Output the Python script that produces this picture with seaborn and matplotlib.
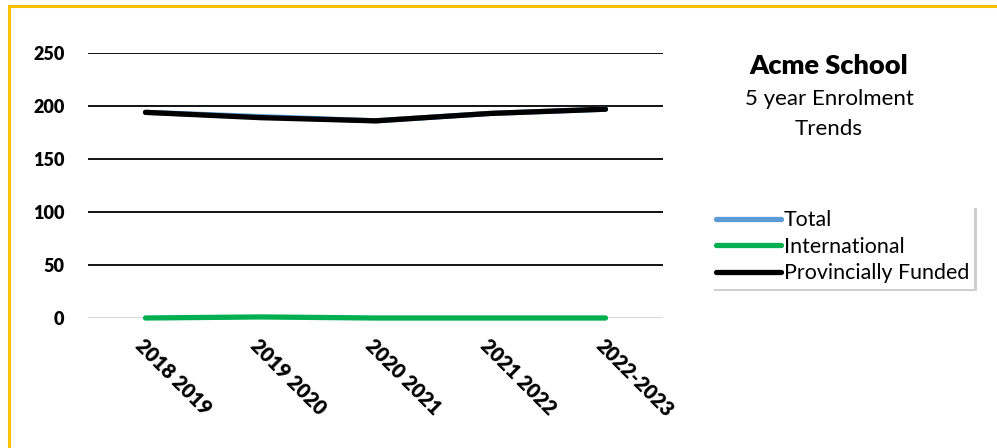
import pandas as pd
import matplotlib
matplotlib.use("Agg")
import matplotlib.pyplot as plt
import seaborn as sns
from matplotlib.patches import Rectangle

years = ['2018 2019', '2019 2020', '2020 2021', '2021 2022', '2022-2023']
total = [194, 190, 186, 193, 197]
international = [0, 1, 0, 0, 0]
provincial = [194, 189, 186, 193, 197]

series = ['Total', 'International', 'Provincially Funded']
colors = ['#5B9BD5', '#00B050', '#000000']

df = pd.DataFrame({
    'Year': years * 3,
    'Enrolment': total + international + provincial,
    'Series': [series[0]] * 5 + [series[1]] * 5 + [series[2]] * 5,
})
df['x'] = df['Year'].map({y: i for i, y in enumerate(years)})

sns.set_style('white')
plt.rcParams['font.family'] = ['Lato', 'DejaVu Sans']
plt.rcParams['text.color'] = 'black'
plt.rcParams['xtick.color'] = 'black'
plt.rcParams['ytick.color'] = 'black'

fig = plt.figure(figsize=(9.97, 4.48), dpi=100)
ax = fig.add_axes([88 / 997, 1 - 318 / 448, (663 - 88) / 997, (318 - 53) / 448])

sns.lineplot(data=df, x='x', y='Enrolment', hue='Series', hue_order=series,
             palette=colors, linewidth=3.8, ax=ax, legend=False,
             solid_capstyle='round', clip_on=False)

ax.set_xlim(-0.5, 4.5)
ax.set_ylim(0, 250)
ax.set_yticks([0, 50, 100, 150, 200, 250])
for v in [50, 100, 150, 200, 250]:
    ax.axhline(v, color='black', linewidth=1.3, zorder=0)
ax.axhline(0, color='#D9D9D9', linewidth=1.5, zorder=0)
ax.set_xticks(range(5))
ax.set_xticklabels(years, rotation=-45, ha='left', va='top',
                   rotation_mode='anchor', fontsize=14.5, fontweight='heavy')
ax.set_yticklabels([str(v) for v in [0, 50, 100, 150, 200, 250]],
                   fontsize=13, fontweight='heavy')
ax.tick_params(axis='both', length=0)
ax.tick_params(axis='x', pad=13)
ax.tick_params(axis='y', pad=17)
ax.set_xlabel('')
ax.set_ylabel('')
sns.despine(ax=ax, left=True, bottom=True)

handles = [plt.Line2D([], [], color=c, linewidth=3.8, solid_capstyle='round') for c in colors]
leg = fig.legend(handles, series, loc='upper left', bbox_to_anchor=(711 / 997, 1 - 205 / 448),
                 frameon=True, fancybox=False, shadow={'color': '#BBBBBB', 'alpha': 0.7},
                 fontsize=15.4, handlelength=3.0, handletextpad=0.15, labelspacing=0.3,
                 borderpad=0.25, borderaxespad=0)
leg.get_frame().set_edgecolor('white')
leg.get_frame().set_linewidth(0)

fig.text(829 / 997, 1 - 66 / 448, 'Acme School', ha='center', va='center',
         fontsize=19.5, fontweight='heavy')
fig.text(829 / 997, 1 - 99 / 448, '5 year Enrolment', ha='center', va='center', fontsize=16)
fig.text(829 / 997, 1 - 129 / 448, 'Trends', ha='center', va='center', fontsize=16)

fig.patches.append(Rectangle((9 / 997, -0.05), 1.05, 1 - 6 / 448 + 0.05,
                             transform=fig.transFigure, fill=False,
                             edgecolor='#FFC000', linewidth=2.2))

fig.savefig('out.png', dpi=100)
